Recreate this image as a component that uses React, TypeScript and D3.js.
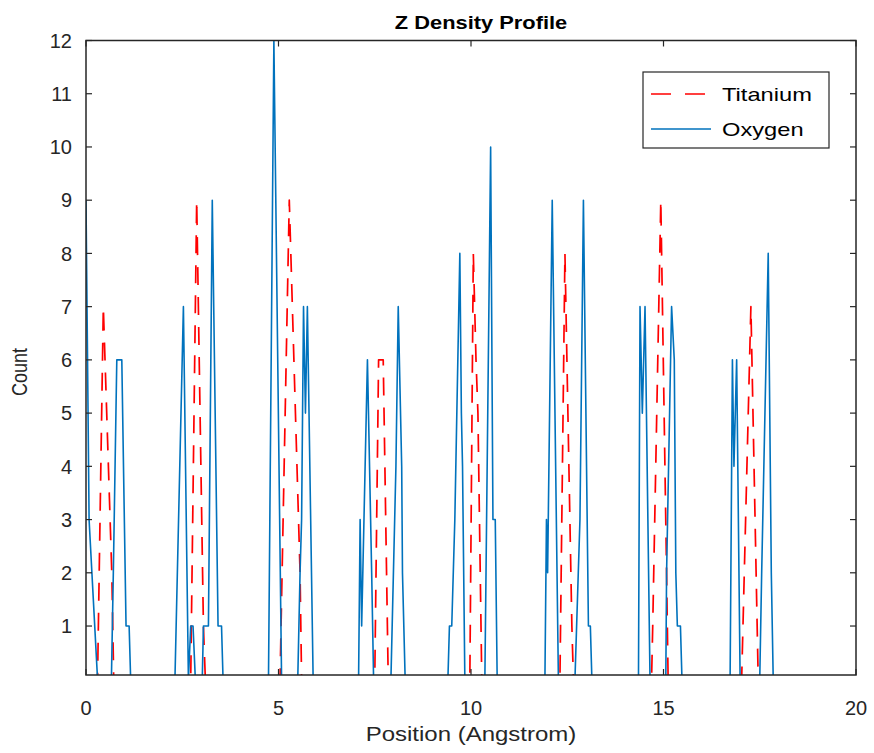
import React from "react";
import * as d3 from "d3";

const tiX = [0, 0.3, 0.45, 0.67, 0.72, 2.72, 2.875, 3.05, 3.1, 5.04, 5.28, 5.56, 5.6, 7.5, 7.6, 7.72, 7.85, 9.97, 10.06, 10.13, 10.18, 10.28, 12.31, 12.44, 12.62, 12.66, 14.69, 14.72, 14.93, 15.08, 15.12, 17.03, 17.27, 17.46, 20];
const tiY = [0, 0, 7, 2, 0, 0, 9, 1, 0, 0, 9, 2, 0, 0, 6, 6, 0, 0, 8, 6, 5, 0, 0, 8, 1, 0, 0, 1, 9, 2, 0, 0, 7, 0, 0];

const oxX = [0, 0.08, 0.3, 0.66, 0.71, 0.8, 0.93, 1.04, 1.12, 1.16, 2.31, 2.53, 2.66, 2.72, 2.78, 2.84, 3.02, 3.05, 3.18, 3.28, 3.43, 3.52, 3.56, 4.74, 4.88, 5.08, 5.5, 5.56, 5.6, 5.65, 5.7, 5.75, 5.9, 7.08, 7.12, 7.16, 7.31, 7.42, 7.47, 7.92, 8.05, 8.11, 8.2, 8.22, 8.29, 9.4, 9.44, 9.5, 9.58, 9.71, 9.75, 9.78, 9.84, 10.36, 10.51, 10.57, 10.63, 10.68, 11.92, 11.96, 11.99, 12.11, 12.27, 12.7, 12.83, 12.92, 13.05, 13.1, 13.14, 14.35, 14.39, 14.45, 14.52, 14.65, 15.06, 15.08, 15.21, 15.28, 15.32, 15.36, 15.44, 15.48, 16.73, 16.79, 16.83, 16.9, 16.99, 17.5, 17.55, 17.72, 17.8, 17.85, 20];
const oxY = [9, 3, 0, 0, 2, 6, 6, 1, 1, 0, 0, 7, 0, 1, 1, 0, 0, 1, 1, 9, 1, 1, 0, 0, 12, 0, 0, 2, 3, 7, 5, 7, 0, 0, 3, 1, 6, 2, 0, 0, 4, 7, 4, 2, 0, 0, 1, 1, 3, 8, 5, 4, 0, 0, 10, 3, 3, 0, 0, 3, 2, 9, 0, 0, 3, 9, 1, 1, 0, 0, 7, 5, 7, 0, 0, 2, 7, 6, 2, 1, 1, 0, 0, 6, 4, 6, 0, 0, 2, 8, 2, 0, 0];

const xTicks = [0, 5, 10, 15, 20];
const yTicks = [1, 2, 3, 4, 5, 6, 7, 8, 9, 10, 11, 12];
const seriesNames = ["Titanium", "Oxygen"];
const titleText = "Z Density Profile";
const xLabel = "Position (Angstrom)";
const yLabel = "Count";

const W = 874;
const H = 753;
const L = 86, R = 856, T = 40.5, B = 675;
const AX = "#262626";
const FONT = "'Liberation Sans', Arial, Helvetica, sans-serif";

export default function App() {
  const x = d3.scaleLinear().domain([0, 20]).range([L, R]);
  const y = d3.scaleLinear().domain([0.08, 12]).range([B, T]);
  const line = d3.line<[number, number]>().x((d) => x(d[0])).y((d) => y(d[1]));
  const ti = line(tiX.map((v, i) => [v, tiY[i]] as [number, number])) || "";
  const ox = line(oxX.map((v, i) => [v, oxY[i]] as [number, number])) || "";
  const tl = 6;

  return (
    <svg width={W} height={H} style={{ position: "absolute", left: 0, top: 0, background: "#fff" }} fontFamily={FONT}>
      <rect x={0} y={0} width={W} height={H} fill="#fff" />
      <defs>
        <clipPath id="plotclip">
          <rect x={L} y={T} width={R - L} height={B - T} />
        </clipPath>
      </defs>
      <g clipPath="url(#plotclip)" fill="none" strokeLinejoin="round">
        <path d={ti} stroke="#FF0000" strokeWidth={1.7} strokeDasharray="18,12" />
        <path d={ox} stroke="#0072BD" strokeWidth={1.6} />
      </g>
      <rect x={L} y={T} width={R - L} height={B - T} fill="none" stroke={AX} strokeWidth={1.5} />
      {xTicks.map((t) => (
        <g key={"xt" + t}>
          <line x1={x(t)} x2={x(t)} y1={B} y2={B - tl} stroke={AX} strokeWidth={1.2} />
          <line x1={x(t)} x2={x(t)} y1={T} y2={T + tl} stroke={AX} strokeWidth={1.2} />
          <text x={x(t)} y={714.5} textAnchor="middle" fontSize={20} fill={AX}>{t}</text>
        </g>
      ))}
      {yTicks.map((t) => (
        <g key={"yt" + t}>
          <line x1={L} x2={L + tl} y1={y(t)} y2={y(t)} stroke={AX} strokeWidth={1.2} />
          <line x1={R} x2={R - tl} y1={y(t)} y2={y(t)} stroke={AX} strokeWidth={1.2} />
          <text x={72} y={y(t)} dy="0.36em" textAnchor="end" fontSize={20} fill={AX}>{t}</text>
        </g>
      ))}
      <text transform={`translate(481,29) scale(1.15,1)`} textAnchor="middle" fontSize={19} fontWeight="bold" fill="#000">{titleText}</text>
      <text transform={`translate(${(L + R) / 2},741) scale(1.2,1)`} textAnchor="middle" fontSize={20} fill={AX}>{xLabel}</text>
      <text transform={`translate(27,372) scale(1.2,1) rotate(-90)`} textAnchor="middle" fontSize={18} fill={AX}>{yLabel}</text>
      <g>
        <rect x={643} y={72} width={186} height={76} fill="#fff" stroke={AX} strokeWidth={1.2} />
        <line x1={651} x2={711} y1={94} y2={94} stroke="#FF0000" strokeWidth={1.7} strokeDasharray="20,14" />
        <line x1={651} x2={711} y1={129} y2={129} stroke="#0072BD" strokeWidth={1.6} />
        <text transform="translate(722,101) scale(1.28,1)" fontSize={18.5} fill="#000">{seriesNames[0]}</text>
        <text transform="translate(722,136) scale(1.28,1)" fontSize={18.5} fill="#000">{seriesNames[1]}</text>
      </g>
    </svg>
  );
}
